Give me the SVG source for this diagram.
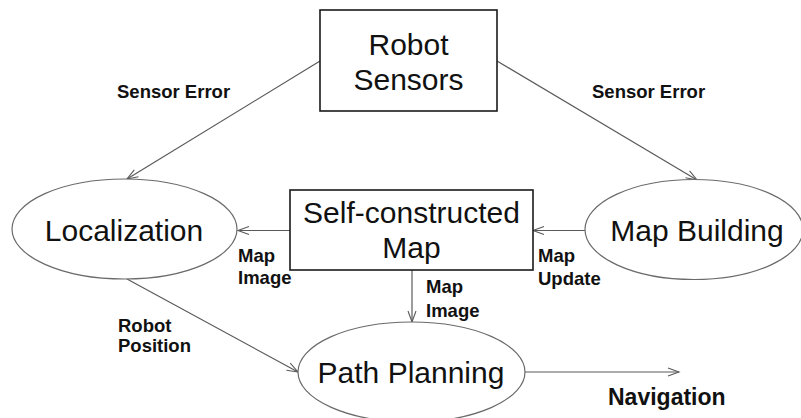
<svg xmlns="http://www.w3.org/2000/svg" width="801" height="418" viewBox="0 0 801 418">
  <style>
    .box { fill: #ffffff; stroke: #1a1a1a; stroke-width: 1.6; }
    .oval { fill: #ffffff; stroke: #6a6a6a; stroke-width: 1.2; }
    .node-text { font-family: "Liberation Sans", Arial, sans-serif; font-size: 30px; fill: #111111; text-anchor: middle; }
    .edge { fill: none; stroke: #5a5a5a; stroke-width: 1.2; marker-end: url(#open-arrow); }
    .label { font-family: "Liberation Sans", Arial, sans-serif; font-size: 18.5px; font-weight: bold; fill: #111111; }
    .label-big { font-family: "Liberation Sans", Arial, sans-serif; font-size: 23px; font-weight: bold; fill: #111111; }
  </style>
  <defs>
    <marker id="open-arrow" markerUnits="userSpaceOnUse" markerWidth="14" markerHeight="12" refX="12" refY="5" orient="auto">
      <path d="M1,1 L12,5 L1,9" fill="none" stroke="#5a5a5a" stroke-width="1.1"/>
    </marker>
  </defs>

  <rect width="801" height="418" fill="#ffffff"/>

  <g id="connectors">
    <line class="edge" x1="320" y1="61" x2="127" y2="179"/>
    <line class="edge" x1="497" y1="61" x2="697" y2="180"/>
    <line class="edge" x1="290" y1="230.5" x2="238" y2="230.5"/>
    <line class="edge" x1="585" y1="230.5" x2="533" y2="230.5"/>
    <line class="edge" x1="412" y1="270" x2="412" y2="322"/>
    <line class="edge" x1="127" y1="279" x2="298" y2="372"/>
    <line class="edge" x1="525" y1="372" x2="679" y2="372"/>

    <text class="label" x="117" y="98">Sensor Error</text>
    <text class="label" x="592" y="98">Sensor Error</text>
    <text class="label" x="238" y="262">Map</text>
    <text class="label" x="238" y="284">Image</text>
    <text class="label" x="538" y="262">Map</text>
    <text class="label" x="538" y="285">Update</text>
    <text class="label" x="426" y="293">Map</text>
    <text class="label" x="426" y="317">Image</text>
    <text class="label" x="118" y="332">Robot</text>
    <text class="label" x="118" y="352">Position</text>
    <text class="label-big" x="608" y="405">Navigation</text>
  </g>

  <g id="robot-sensors">
    <rect class="box" x="320" y="10" width="177" height="101"/>
    <text class="node-text" x="408.5" y="55">Robot</text>
    <text class="node-text" x="408.5" y="90">Sensors</text>
  </g>

  <g id="localization">
    <ellipse class="oval" cx="124.5" cy="229" rx="112.5" ry="50"/>
    <text class="node-text" x="124" y="241">Localization</text>
  </g>

  <g id="self-constructed-map">
    <rect class="box" x="290" y="190" width="243" height="80"/>
    <text class="node-text" x="411.5" y="223">Self-constructed</text>
    <text class="node-text" x="411.5" y="258">Map</text>
  </g>

  <g id="map-building">
    <ellipse class="oval" cx="694" cy="229.5" rx="109" ry="50"/>
    <text class="node-text" x="697" y="241">Map Building</text>
  </g>

  <g id="path-planning">
    <ellipse class="oval" cx="411.5" cy="372" rx="113.5" ry="50"/>
    <text class="node-text" x="411" y="383">Path Planning</text>
  </g>
</svg>
